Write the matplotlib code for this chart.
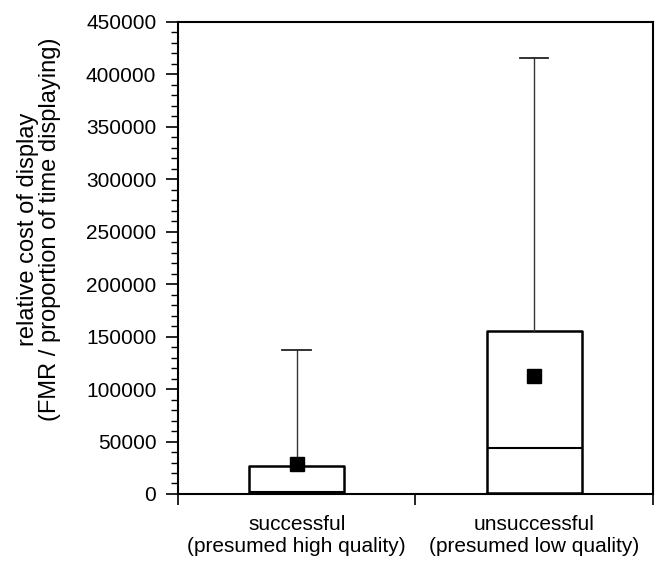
"""Box plot: relative cost of display for successful vs unsuccessful males."""
import matplotlib
matplotlib.use('Agg')
import matplotlib.pyplot as plt
from matplotlib.ticker import MultipleLocator, FixedLocator, NullFormatter, FixedFormatter

plt.rcParams['font.family'] = ['Liberation Sans', 'DejaVu Sans']

# Data
groups = ['successful\n(presumed high quality)', 'unsuccessful\n(presumed low quality)']
whisker_low = [0, 0]
q1 = [0, 1000]
median = [2000, 44000]
q3 = [26500, 155700]
whisker_high = [137000, 416000]
means = [28800, 112900]

fig = plt.figure(figsize=(6.56, 5.65), dpi=100)
ax = fig.add_axes([0.2713, 0.1257, 0.7241, 0.8354])

positions = [0.5, 1.5]
stats = []
for i in range(len(groups)):
    stats.append({
        'whislo': whisker_low[i], 'q1': q1[i], 'med': median[i],
        'q3': q3[i], 'whishi': whisker_high[i], 'mean': means[i],
        'fliers': [],
    })

ax.bxp(stats, positions=positions, widths=0.4, showmeans=True,
       showfliers=False, patch_artist=False, manage_ticks=False,
       boxprops=dict(color='black', linewidth=1.8),
       medianprops=dict(color='black', linewidth=1.5),
       whiskerprops=dict(color='#333333', linewidth=1.0),
       capprops=dict(color='#222222', linewidth=1.3),
       capwidths=0.12,
       meanprops=dict(marker='s', markerfacecolor='black',
                      markeredgecolor='black', markersize=9.5))

ax.set_xlim(0, 2)
ax.set_ylim(0, 450000)

# y axis
ax.yaxis.set_major_locator(MultipleLocator(50000))
ax.yaxis.set_minor_locator(MultipleLocator(10000))
ax.tick_params(axis='y', which='major', direction='out', length=8.6,
               width=1.2, labelsize=15, pad=7)
ax.tick_params(axis='y', which='minor', direction='out', length=5, width=1.0)

# x axis: ticks at category borders, labels centred on categories
ax.xaxis.set_major_locator(FixedLocator([0, 1, 2]))
ax.xaxis.set_major_formatter(NullFormatter())
ax.xaxis.set_minor_locator(FixedLocator(positions))
ax.xaxis.set_minor_formatter(FixedFormatter(groups))
ax.tick_params(axis='x', which='major', direction='out', length=8, width=1.2)
ax.tick_params(axis='x', which='minor', length=0, labelsize=15, pad=15)

for spine in ax.spines.values():
    spine.set_linewidth(1.5)

fig.text(39 / 656, 0.595,
         'relative cost of display\n(FMR / proportion of time displaying)',
         rotation=90, ha='center', va='center', fontsize=17, linespacing=0.95)

plt.savefig('out.png', dpi=100)
